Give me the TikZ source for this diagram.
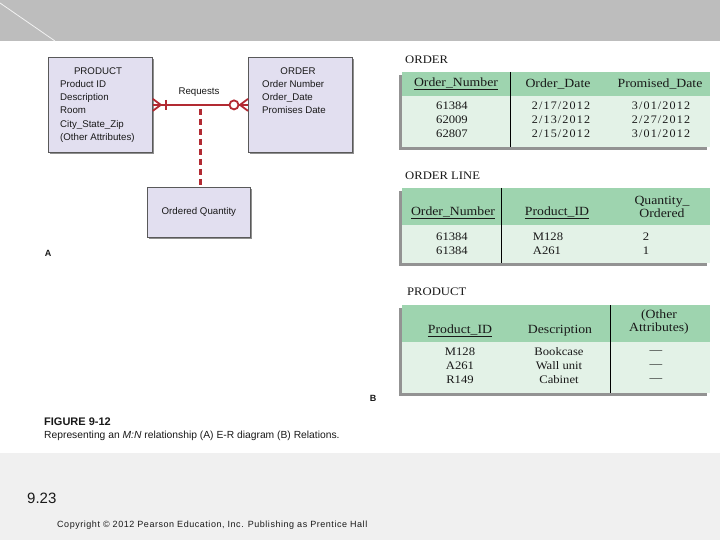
\documentclass[tikz,border=0pt]{standalone}
\usepackage{fontspec}
\setmainfont{Liberation Serif}
\newfontfamily\erfont{Liberation Sans}
\newfontfamily\tabfont{Liberation Serif}[FakeStretch=1.1]
\newfontfamily\datefont{Liberation Serif}[FakeStretch=1.05,LetterSpace=10]
\usetikzlibrary{calc,positioning,shadows}
\definecolor{slidegray}{RGB}{189,189,189}
\definecolor{footgray}{RGB}{240,240,240}
\definecolor{erfill}{RGB}{226,223,240}
\definecolor{erred}{RGB}{178,42,50}
\definecolor{hdgreen}{RGB}{158,212,175}
\definecolor{bdgreen}{RGB}{227,242,231}

\begin{document}
\begin{tikzpicture}[x=1pt,y=-1pt,
    entity/.style={draw=black!65, fill=erfill, line width=0.8pt, minimum width=104pt, anchor=north west, drop shadow={shadow xshift=2pt, shadow yshift=-2pt, fill=black!55, opacity=0.8}},
    ertext/.style={font=\erfont\fontsize{9.7}{13.3}\selectfont, inner sep=0pt},
    rel/.style={draw=erred, line width=2.6pt},
    foot/.style={draw=erred, line width=1.8pt},
    tbl/.style={fill=bdgreen, drop shadow={shadow xshift=-3pt, shadow yshift=-3pt, fill=black!60, opacity=0.7}},
    tbltitle/.style={font=\tabfont\fontsize{11.5}{12}\selectfont, inner sep=0pt, anchor=west},
    colhead/.style={font=\tabfont\fontsize{12.5}{13}\selectfont, inner sep=0pt, align=center},
    cell/.style={font=\tabfont\fontsize{11.5}{14}\selectfont, inner sep=0pt, align=center},
    datecell/.style={font=\datefont\fontsize{11.5}{14}\selectfont, inner sep=0pt, align=center},
    every node/.style={text=black!90}]
    \useasboundingbox[fill=white] (0,0) rectangle (720,540);

    \fill[slidegray] (0,0) rectangle (720,41);
    \draw[white!80!slidegray, line width=0.8pt] (0,3) -- (55,41);
    \fill[footgray] (0,453) rectangle (720,540);

    \node[entity, minimum height=95pt] (prod) at (48,57) {};
    \node[entity, minimum height=95pt] (ord) at (248,57) {};
    \node[entity, minimum height=50pt, minimum width=103pt] (qty) at (147,187) {};
    \node[ertext] (prodtitle) at (98,71) {PRODUCT};
    \node[ertext, align=left, anchor=north west] (prodattr) at (60,80) {Product ID\\Description\\Room\\City\_State\_Zip\\(Other Attributes)};
    \node[ertext] (ordtitle) at (298,71) {ORDER};
    \node[ertext, align=left, anchor=north west] (ordattr) at (262,80) {Order Number\\Order\_Date\\Promises Date};
    \node[ertext] (qtytext) at (qty.center) {Ordered Quantity};
    \node[ertext] (reqlbl) at (199,92) {Requests};

    \draw[rel] (prod.east) -- (ord.west);
    \draw[foot] ($(prod.east)+(0,-6)$) -- ($(prod.east)+(8,0)$) -- ($(prod.east)+(0,6)$);
    \draw[foot] ($(prod.east)+(13,-5)$) -- ($(prod.east)+(13,5)$);
    \draw[foot, fill=white] ($(ord.west)+(-14,0)$) circle[radius=4.5];
    \draw[foot] ($(ord.west)+(0,-6)$) -- ($(ord.west)+(-8,0)$) -- ($(ord.west)+(0,6)$);
    \coordinate (relmid) at (200,109);
    \draw[erred, line width=3pt, dash pattern=on 6pt off 4pt] (relmid) -- (relmid |- qty.north);

    \node[font=\erfont\bfseries\fontsize{9}{10}\selectfont, inner sep=0pt] (parta) at (48,253) {A};

    % relations
    \node[tbltitle] (ordname) at (405,60) {ORDER};
    \fill[tbl] (402,72) rectangle (710,147);
    \fill[hdgreen] (402,72) rectangle (710,96);
    \draw[black, line width=0.6pt] (510,72) -- (510,147);
    \node[colhead] (o1) at (456,84) {\underline{Order\_Number}};
    \node[colhead] (o2) at (558,84) {Order\_Date};
    \node[colhead] (o3) at (660,84) {Promised\_Date};
    \node[cell] (o1r) at (452,120) {61384\\62009\\62807};
    \node[datecell] (o2r) at (561,120) {2/17/2012\\2/13/2012\\2/15/2012};
    \node[datecell] (o3r) at (661,120) {3/01/2012\\2/27/2012\\3/01/2012};

    \node[tbltitle] (linename) at (405,176) {ORDER LINE};
    \fill[tbl] (402,188) rectangle (710,263);
    \fill[hdgreen] (402,188) rectangle (710,225);
    \draw[black, line width=0.6pt] (501,188) -- (501,263);
    \node[colhead] (l1) at (453,213) {\underline{Order\_Number}};
    \node[colhead] (l2) at (557,213) {\underline{Product\_ID}};
    \node[colhead] (l3) at (662,207) {Quantity\_\\Ordered};
    \node[cell] (l1r) at (452,243.5) {61384\\61384};
    \node[cell, align=left] (l2r) at (548,243.5) {M128\\A261};
    \node[cell] (l3r) at (646,243.5) {2\\1};

    \node[tbltitle] (prodname) at (407,292) {PRODUCT};
    \fill[tbl] (402,305) rectangle (710,393);
    \fill[hdgreen] (402,305) rectangle (710,342);
    \draw[black, line width=0.6pt] (610,305) -- (610,393);
    \node[colhead] (p1) at (460,331) {\underline{Product\_ID}};
    \node[colhead] (p2) at (560,331) {Description};
    \node[colhead] (p3) at (659,322) {(Other\\Attributes)};
    \node[cell] (p1r) at (460,366) {M128\\A261\\R149};
    \node[cell] (p2r) at (559,366) {Bookcase\\Wall unit\\Cabinet};
    \node[cell] (p3r) at (656,366) {\textemdash\\\textemdash\\\textemdash};

    \node[font=\erfont\bfseries\fontsize{9}{10}\selectfont, inner sep=0pt] (partb) at (373,398) {B};

    \node[font=\erfont\bfseries\fontsize{11}{12}\selectfont, inner sep=0pt, anchor=west] (fig) at (44,422) {FIGURE 9-12};
    \node[font=\erfont\fontsize{10.3}{12}\selectfont, inner sep=0pt, anchor=west] (caption) at (44,436) {Representing an \textit{M:N} relationship (A) E-R diagram (B) Relations.};

    \node[font=\erfont\fontsize{15}{16}\selectfont, inner sep=0pt, anchor=west] (slideno) at (27,498) {9.23};
    \node[font=\erfont\fontsize{9}{10}\selectfont, inner sep=0pt, anchor=west] (copy) at (57,525) {\addfontfeature{LetterSpace=6}Copyright \textcopyright\ 2012 Pearson Education, Inc. Publishing as Prentice Hall};
\end{tikzpicture}
\end{document}
